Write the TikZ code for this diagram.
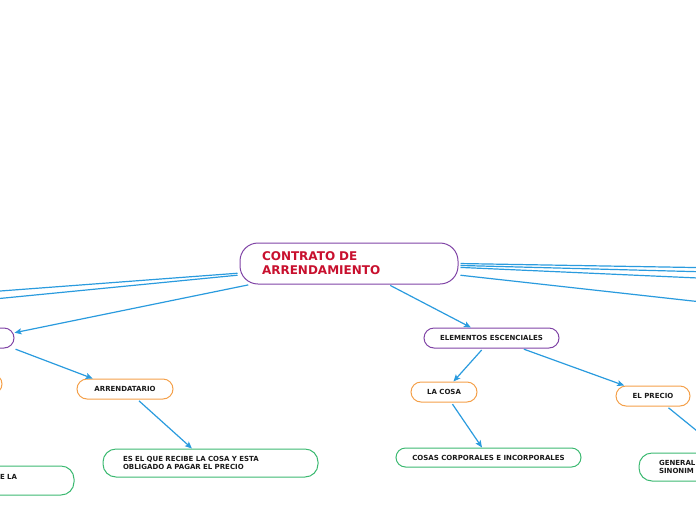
\documentclass[tikz,border=0pt]{standalone}
\usepackage{fontspec}
\setmainfont{DejaVu Sans}
\usetikzlibrary{arrows.meta}
\definecolor{mmBlue}{HTML}{2A9BDE}
\definecolor{mmPurple}{HTML}{8044A6}
\definecolor{mmOrange}{HTML}{F4A04A}
\definecolor{mmGreen}{HTML}{3CB971}
\definecolor{mmRed}{HTML}{C8102E}
\definecolor{mmText}{HTML}{1A1A1A}

\begin{document}
\begin{tikzpicture}[x=1pt, y=-1pt,
    central/.style={draw=mmPurple, line width=1pt, rounded corners=18pt, minimum width=218pt, minimum height=41pt,
        inner xsep=22pt, inner ysep=0pt, text width=174pt, align=left, text=mmRed,
        font=\bfseries\fontsize{12}{14}\selectfont},
    branch/.style={draw=mmPurple, line width=1pt, rounded corners=10pt, minimum height=20pt, inner sep=0pt,
        text=mmText, font=\bfseries\fontsize{7}{8.5}\selectfont},
    leaf/.style={branch, draw=mmOrange},
    note/.style={draw=mmGreen, line width=1pt, rounded corners=13pt, minimum height=28pt, inner xsep=20pt,
        inner ysep=0pt, align=left, text=mmText, font=\bfseries\fontsize{7}{8}\selectfont},
    conn/.style={draw=mmBlue, line width=1.2pt, shorten <=2pt, -{Stealth[length=7pt,width=6pt,inset=1.5pt]}},
]
    \useasboundingbox (0,0) rectangle (696,520);
    \clip (0,0) rectangle (696,520);

    \node[central] (contrato) at (349,263.5) {CONTRATO DE\\ARRENDAMIENTO};

    \node[branch, minimum width=150pt] (personales) at (-61,338) {};
    \node[leaf, minimum width=102pt] (izq) at (-49,384) {};
    \node[leaf, minimum width=96pt] (arrendatario) at (125,389) {ARRENDATARIO};
    \node[note, text width=175pt] (recibe) at (210.5,463) {ES EL QUE RECIBE LA COSA Y ESTA\\OBLIGADO A PAGAR EL PRECIO};
    \node[note, text width=54pt, minimum height=29pt] (izqnota) at (27,480.5) {E LA\\\mbox{}};

    \node[branch, minimum width=135pt] (elementos) at (491.5,338) {ELEMENTOS ESCENCIALES};
    \node[leaf, minimum width=66pt] (cosa) at (444,392) {LA COSA};
    \node[note, minimum width=185pt, minimum height=19pt, rounded corners=9.5pt, inner xsep=0pt] (corporales) at (488.5,457.5) {COSAS CORPORALES E INCORPORALES};
    \node[leaf, minimum width=74pt] (precio) at (653,396) {EL PRECIO};
    \node[note, text width=158pt] (general) at (738,467) {GENERAL\\SINONIM};

    % branches that leave the picture
    \coordinate (L1) at (-200,306);
    \coordinate (L2) at (-200,318);
    \coordinate (R1) at (900,271);
    \coordinate (R2) at (900,277);
    \coordinate (R3) at (900,287);
    \coordinate (R4) at (900,324);

    \draw[conn] (contrato.192) -- (personales.4);
    \draw[conn] (contrato.185) -- (L1);
    \draw[conn] (contrato.186.4) -- (L2);
    \draw[conn] (contrato.-0.8) -- (R1);
    \draw[conn] (contrato.-1.3) -- (R2);
    \draw[conn] (contrato.-2.3) -- (R3);
    \draw[conn] (contrato.-6.4) -- (R4);
    \draw[conn] (contrato.-28) -- (elementos.153);

    \draw[conn] (personales.-8.5) -- (arrendatario.162);
    \draw[conn] (arrendatario.-40) -- (recibe.142);

    \draw[conn] (elementos.231) -- (cosa.48);
    \draw[conn] (cosa.-55) -- (corporales.123);
    \draw[conn] (elementos.-19) -- (precio.160);
    \draw[conn] (precio.-37) -- (general.135);
\end{tikzpicture}
\end{document}
